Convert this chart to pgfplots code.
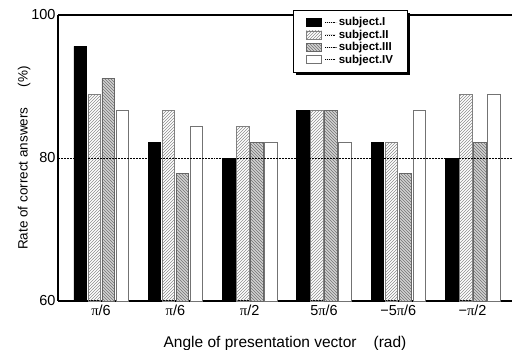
\documentclass[border=0pt]{standalone}
\usepackage{pgfplots}
\pgfplotsset{compat=1.18}
\usepackage{fontspec}
\setmainfont{Liberation Sans}
\newfontfamily\pifont{Liberation Serif}
\newcommand{\PI}{{\pifont π}}
\usetikzlibrary{patterns}
\begin{document}
\begin{tikzpicture}[x=1pt,y=1pt]
\begin{axis}[
  scale only axis,
  width=454pt, height=286pt,
  clip=false,
  ybar=1.5pt, bar width=0.168,
  xmin=-0.58, xmax=5.53,
  ymin=60, ymax=100,
  enlarge x limits=false,
  axis x line*=bottom, axis y line*=left,
  axis line style={line width=1.1pt},
  xtick={0,1,2,3,4,5},
  xticklabels={\PI/6, \PI/6, \PI/2, 5\PI/6, −5\PI/6, −\PI/2},
  ytick={60,80,100},
  major tick length=0pt,
  /pgf/number format/assume math mode=true,
  tick label style={font=\fontsize{14.5}{16}\selectfont},
  xticklabel style={yshift=0pt},
  yticklabel style={xshift=1pt},
  xlabel={Angle of presentation vector\hspace{1.1em}(rad)},
  ylabel={Rate of correct answers\hspace{1.5em}(\%)},
  xlabel style={font=\fontsize{15.5}{17}\selectfont, yshift=-14pt},
  ylabel style={font=\fontsize{13.5}{15}\selectfont, yshift=-6pt},
  legend cell align=left,
  legend style={at={(0.6435,0.909)}, anchor=center, draw=none, fill=none,
    font=\fontsize{11.5}{12}\selectfont\bfseries, row sep=2pt, inner xsep=0pt, inner ysep=0pt,
    nodes={inner ysep=0.3pt, inner xsep=1pt}},
  mylegend/.style={legend image code/.code={
     \draw[##1, line width=0.6pt] (0pt,-4pt) rectangle (15pt,4pt);
     \draw[black, line width=0.6pt, dash pattern=on 0.6pt off 1.2pt] (19pt,0pt) -- (29pt,0pt);
     \path[draw=none] (29pt,0pt) -- (31pt,0pt);}},
]
\addplot[mylegend, fill=black, draw=black, line width=0.6pt] coordinates {(0,95.6) (1,82.2) (2,80.0) (3,86.7) (4,82.2) (5,80.0)};
\addplot[mylegend, draw=black!50, line width=0.6pt, pattern=north east lines, pattern color=black!45] coordinates {(0,88.9) (1,86.7) (2,84.4) (3,86.7) (4,82.2) (5,88.9)};
\addplot[mylegend, draw=black!60, line width=0.6pt, fill=black!18, postaction={pattern=north west lines, pattern color=black!55}] coordinates {(0,91.1) (1,77.8) (2,82.2) (3,86.7) (4,77.8) (5,82.2)};
\addplot[mylegend, draw=black!55, line width=0.6pt, fill=white] coordinates {(0,86.7) (1,84.4) (2,82.2) (3,82.2) (4,86.7) (5,88.9)};
\legend{subject.I, subject.II, subject.III, subject.IV}
\addplot[sharp plot, forget plot, black, densely dotted, line width=0.5pt] coordinates {(-0.58,80) (5.53,80)};
\draw[line width=1.1pt] (rel axis cs:0,1) -- (rel axis cs:1,1);
\fill[black] ([xshift=3pt,yshift=-3pt]rel axis cs:0.518,0.801) rectangle ([xshift=3pt,yshift=-3pt]rel axis cs:0.769,1.0175);
\draw[fill=white, line width=0.8pt] (rel axis cs:0.518,0.801) rectangle (rel axis cs:0.769,1.0175);
\coordinate (O) at (rel axis cs:0,0);
\end{axis}
\pgfresetboundingbox
\path (O) ++(-58pt,-48pt) rectangle ++(512pt,349pt);
\end{tikzpicture}
\end{document}
